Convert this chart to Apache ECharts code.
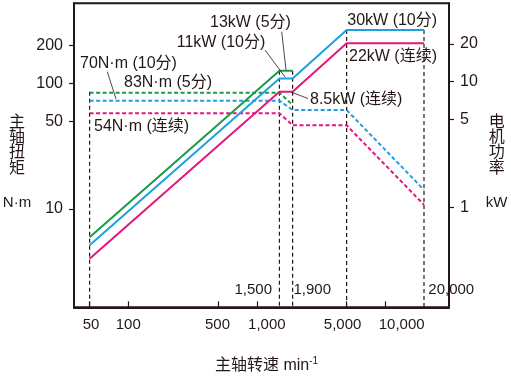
<!DOCTYPE html>
<html><head><meta charset="utf-8">
<script src="https://cdn.jsdelivr.net/npm/echarts@6/dist/echarts.min.js"></script>
<style>html,body{margin:0;padding:0;background:#fff}#c{width:511px;height:380px}</style>
</head><body><div id="c"></div>
<script>
// ---- data (real units) ----
const speedTicks = [50, 100, 500, 1000, 5000, 10000];   // min^-1
const torqueTicks = [10, 50, 100, 200];                 // N·m
const powerTicks = [1, 5, 10, 20];                      // kW

const speed5min = [50, 1500, 1900];
const speedAll = [50, 1500, 1900, 5000, 20000];
const power5min = [0.582, 12.2, 12.2];                  // green, 13kW (5分)
const power10min = [0.503, 10.6, 10.6, 25.7, 25.7];     // blue, 11kW/30kW (10分)
const powerCont = [0.394, 8.33, 8.33, 20.2, 20.2];      // pink, 8.5kW/22kW (连续)
const torque5min = [84.2, 84.2, 67.2];                  // green dashed, 83N·m
const torque10min = [72.7, 72.7, 61.3, 61.3, 14.2];     // blue dashed, 70N·m
const torqueCont = [57.7, 57.7, 46.3, 46.3, 10.8];      // pink dashed, 54N·m

const refSpeeds = [50, 1500, 1900, 5000, 20000];
const refTopTorque = [85.8, 126, 126, 265, 265];

// ---- helpers / styling ----
const lg = Math.log10;
const SPEED_RANGE = [37.8, 31305], TORQUE_RANGE = [1.652, 432.7], POWER_RANGE = [0.162, 41.9];
const INK = '#231815';
const FONT = "'Liberation Sans', 'Noto Sans CJK SC', sans-serif";
const COL = {g: '#1a9a48', b: '#1ea0e0', p: '#e5167d'};
const X_LABEL_SHIFT = [1.4, 0, -0.6, 10, -4, 16.4];
const pts = (xs, ys) => xs.map((x, i) => [lg(x), lg(ys[i])]);
const fmt = v => Math.round(Math.pow(10, v)).toLocaleString('en-US');

const xRich = {};
X_LABEL_SHIFT.forEach((s, i) => {
  xRich['t' + i] = {fontSize: 15, color: INK, fontFamily: FONT,
    padding: s >= 0 ? [0, 0, 0, 2 * s] : [0, -2 * s, 0, 0]};
});
function xFmt(v) {
  let best = 0;
  speedTicks.forEach((t, i) => { if (Math.abs(lg(t) - v) < Math.abs(lg(speedTicks[best]) - v)) best = i; });
  return '{t' + best + '|' + fmt(v) + '}';
}

const series = [];
refSpeeds.forEach((s, i) => series.push({
  type: 'line', yAxisIndex: 0, symbol: 'none', silent: true, z: 1,
  data: [[lg(s), lg(refTopTorque[i])], [lg(s), lg(TORQUE_RANGE[0])]],
  lineStyle: {color: INK, width: 1.2, type: [4, 3]}
}));
function solid(xs, ys, c) { return {type: 'line', yAxisIndex: 1, symbol: 'none', z: 3, data: pts(xs, ys), lineStyle: {color: c, width: 2}}; }
function dashed(xs, ys, c) { return {type: 'line', yAxisIndex: 0, symbol: 'none', z: 2, data: pts(xs, ys), lineStyle: {color: c, width: 2, type: [4, 2.5]}}; }
series.push(dashed(speed5min, torque5min, COL.g), dashed(speedAll, torque10min, COL.b), dashed(speedAll, torqueCont, COL.p));
series.push(solid(speed5min, power5min, COL.g), solid(speedAll, power10min, COL.b), solid(speedAll, powerCont, COL.p));

function txt(x, y, text, o) {
  o = o || {};
  return {type: 'text', x: x, y: y, z: 10, silent: true, style: {
    text: text, fill: INK, font: (o.size || 16) + 'px ' + FONT,
    align: o.align || 'left', verticalAlign: o.va || 'middle', lineHeight: o.lh
  }};
}
function lead(x1, y1, x2, y2) {
  return {type: 'line', z: 10, silent: true, shape: {x1, y1, x2, y2}, style: {stroke: INK, lineWidth: 0.8}};
}
const graphic = [
  txt(210, 23, '13kW (5分)'),
  txt(176.7, 42.7, '11kW (10分)'),
  txt(347.3, 20.7, '30kW (10分)'),
  txt(349, 56.7, '22kW (连续)'),
  txt(310, 100, '8.5kW (连续)'),
  txt(80, 63.3, '70N·m (10分)'),
  txt(124, 82.3, '83N·m (5分)'),
  txt(94, 126.7, '54N·m (连续)'),
  lead(281.7, 31.7, 286, 70),
  lead(265, 50, 285, 77),
  lead(291, 92, 308, 98.5),
  lead(107.3, 71.7, 116, 99),
  txt(272, 290, '1,500', {size: 15, align: 'right'}),
  txt(293.5, 290, '1,900', {size: 15}),
  txt(428.3, 290, '20,000', {size: 15}),
  txt(17, 114.8, '主\n轴\n扭\n矩', {align: 'center', va: 'top', lh: 15.3}),
  txt(17, 202.7, 'N·m', {size: 15, align: 'center'}),
  txt(496.7, 114.8, '电\n机\n功\n率', {align: 'center', va: 'top', lh: 15.3}),
  txt(496.5, 202.7, 'kW', {size: 15, align: 'center'})
];

const yBase = {
  type: 'value', splitLine: {show: false},
  axisLine: {show: true, onZero: false, lineStyle: {color: INK, width: 2}}
};
const option = {
  animation: false,
  grid: {left: 74, right: 62, top: 3.3, bottom: 72.7, show: true, borderColor: INK, borderWidth: 2, backgroundColor: 'transparent'},
  xAxis: {
    type: 'value', min: lg(SPEED_RANGE[0]), max: lg(SPEED_RANGE[1]), splitLine: {show: false},
    axisLine: {show: true, onZero: false, lineStyle: {color: INK, width: 2}},
    axisTick: {show: true, inside: true, length: 6, lineStyle: {color: INK, width: 1.2}, customValues: speedTicks.map(lg)},
    axisLabel: {customValues: speedTicks.map(lg), formatter: xFmt, rich: xRich, hideOverlap: false,
      fontSize: 15, color: INK, margin: 10, fontFamily: FONT},
    name: '{n|主轴转速 min}{s|-1}', nameLocation: 'middle', nameGap: 49,
    nameTextStyle: {padding: [0, 0, 0, 10], rich: {
      n: {fontSize: 16, color: INK, fontFamily: FONT, lineHeight: 18},
      s: {fontSize: 10, color: INK, fontFamily: FONT, verticalAlign: 'top', lineHeight: 18}
    }}
  },
  yAxis: [
    Object.assign({}, yBase, {
      position: 'left', min: lg(TORQUE_RANGE[0]), max: lg(TORQUE_RANGE[1]),
      axisTick: {show: true, inside: false, length: 5, lineStyle: {color: INK, width: 1.2}, customValues: torqueTicks.map(lg)},
      axisLabel: {customValues: torqueTicks.map(lg), formatter: fmt, hideOverlap: false, fontSize: 16, color: INK, margin: 11, fontFamily: FONT}
    }),
    Object.assign({}, yBase, {
      position: 'right', min: lg(POWER_RANGE[0]), max: lg(POWER_RANGE[1]),
      axisTick: {show: true, inside: false, length: 5, lineStyle: {color: INK, width: 1.2}, customValues: powerTicks.map(lg)},
      axisLabel: {customValues: powerTicks.map(lg), formatter: fmt, hideOverlap: false, fontSize: 16, color: INK, margin: 11, fontFamily: FONT}
    })
  ],
  series: series,
  graphic: graphic
};
echarts.init(document.getElementById('c'), null, {renderer: 'canvas'}).setOption(option);
</script></body></html>
